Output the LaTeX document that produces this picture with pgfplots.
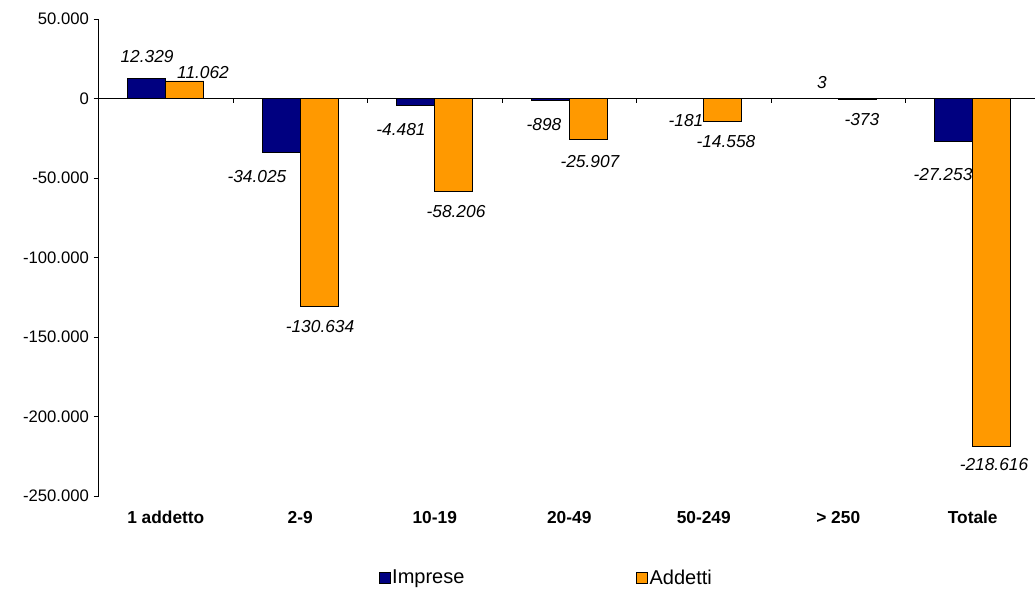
\documentclass[border=0pt]{standalone}
\usepackage{pgfplots}
\pgfplotsset{compat=1.18}
\usepackage{fontspec}
\setmainfont{Liberation Sans}
\definecolor{navyb}{RGB}{0,0,128}
\definecolor{orng}{RGB}{255,153,0}
\begin{document}
\begin{tikzpicture}
\path[use as bounding box] (-73.9pt,-72pt) rectangle (702.4pt,372pt);
\begin{axis}[
  scale only axis,
  width=702.4pt, height=357.75pt,
  xmin=-0.5, xmax=6.463,
  ymin=-250000, ymax=50000,
  axis lines=left,
  x axis line style={draw=none},
  y axis line style={-, black, line width=0.6pt},
  xtick={0,1,2,3,4,5,6},
  xticklabels={1 addetto,2-9,10-19,20-49,50-249,> 250,Totale},
  xtick style={draw=none},
  xticklabel style={font=\fontsize{13}{15}\selectfont\bfseries, yshift=-4pt},
  ytick={-250000,-200000,-150000,-100000,-50000,0,50000},
  scaled y ticks=false,
  yticklabel style={font=\fontsize{12.5}{15}\selectfont, /pgf/number format/.cd, fixed, 1000 sep={.}, assume math mode=true},
  ytick style={black, line width=0.6pt},
  tick align=outside,
  major tick length=3.75pt,
  clip=false,
  legend columns=2,
  legend style={draw=none, at={(0.478,-0.172)}, anchor=center,
    font=\fontsize{15}{17}\selectfont,
    nodes={inner sep=1pt},
    /tikz/every even column/.append style={column sep=128pt}},
  legend image code/.code={\draw[#1] (0pt,-4.1pt) rectangle (8.25pt,4.1pt);},
]
\addplot[ybar, bar width=0.2825, bar shift=-0.14125, fill=navyb, draw=black, line width=0.6pt]
  coordinates {(0,12329) (1,-34025) (2,-4481) (3,-898) (4,-181) (5,3) (6,-27253)};
\addlegendentry{Imprese}
\addplot[ybar, bar width=0.2825, bar shift=0.14125, fill=orng, draw=black, line width=0.6pt]
  coordinates {(0,11062) (1,-130634) (2,-58206) (3,-25907) (4,-14558) (5,-373) (6,-218616)};
\addlegendentry{Addetti}
\addplot[only marks, mark=none, forget plot, point meta=explicit symbolic,
  nodes near coords,
  every node near coord/.append style={anchor=center, inner sep=0pt, font=\fontsize{13}{15}\selectfont\itshape}]
  table[meta=label] {
x y label
-0.139 26100 12.329
0.277 16350 11.062
0.678 -49370 -34.025
1.147 -143710 -130.634
1.749 -19810 -4.481
2.158 -71380 -58.206
2.812 -16670 -898
3.154 -39940 -25.907
3.868 -14150 -181
4.165 -27360 -14.558
4.879 9750 3
5.176 -13520 -373
5.779 -48110 -27.253
6.158 -230500 -218.616
};
\draw[black, line width=0.6pt] (axis cs:-0.5,0) -- (axis cs:6.463,0);
\pgfplotsinvokeforeach{0.5,1.5,2.5,3.5,4.5,5.5}{\draw[black, line width=0.6pt] (axis cs:#1,0) -- ([yshift=-3.75pt]axis cs:#1,0);}
\end{axis}
\end{tikzpicture}
\end{document}
